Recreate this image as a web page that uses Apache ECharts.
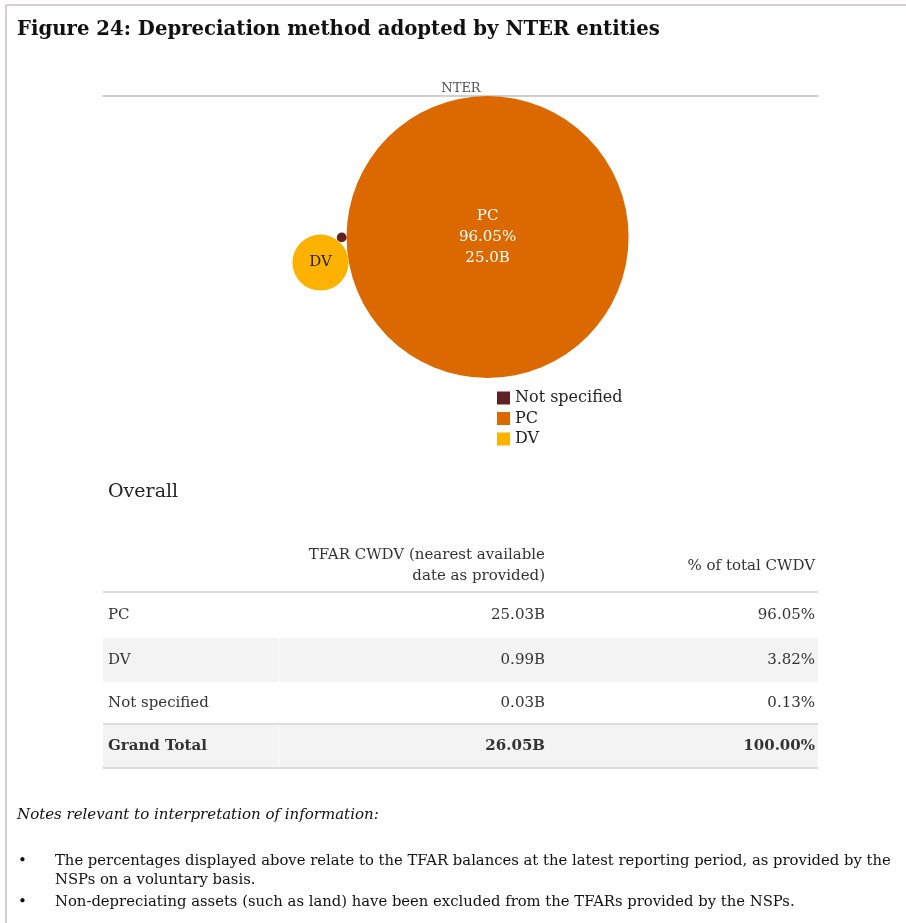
<!DOCTYPE html>
<html>
<head>
<meta charset="utf-8">
<script src="https://cdn.jsdelivr.net/npm/echarts@6/dist/echarts.min.js"></script>
<style>
  html, body { margin: 0; padding: 0; background: #fff; }
  #chart { width: 906px; height: 923px; }
</style>
</head>
<body>
<div id="chart"></div>
<script>
// Depreciation method data (CWDV in billions, share of total in %)
const categories = ['PC', 'DV', 'Not specified'];
const cwdvB = [25.03, 0.99, 0.03];
const sharePct = [96.05, 3.82, 0.13];
const grandTotalB = 26.05;
const grandTotalPct = 100.00;
const colors = ['#DB6900', '#FDB200', '#5F2222'];
const legendOrder = ['Not specified', 'PC', 'DV'];

const titleText = 'Figure 24: Depreciation method adopted by NTER entities';
const chartTitle = 'NTER';
const tableHeading = 'Overall';
const columnHeaders = ['TFAR CWDV (nearest available\ndate as provided)', '% of total CWDV'];
const notesHeading = 'Notes relevant to interpretation of information:';
const notes = [
  'The percentages displayed above relate to the TFAR balances at the latest reporting period, as provided by the\nNSPs on a voluntary basis.',
  'Non-depreciating assets (such as land) have been excluded from the TFARs provided by the NSPs.'
];

const FONT = '"DejaVu Serif", serif';

// Plot area of the bubble chart
const grid = { left: 103, top: 96, width: 715, height: 282 };

// Circle packing: the largest bubble fills the plot height, the second sits
// tangent to it on the left, the third nests in the gap between both.
function packBubbles(values) {
  const rMax = grid.height / 2;
  const r = values.map(v => rMax * Math.sqrt(v / values[0]));
  const theta = 8.7 * Math.PI / 180;
  const c = [[0, 0]];
  const d01 = r[0] + r[1];
  c.push([-d01 * Math.cos(theta), d01 * Math.sin(theta)]);
  // third circle tangent to both
  const a = r[0] + r[2], b = r[1] + r[2];
  const dx = c[1][0] - c[0][0], dy = c[1][1] - c[0][1];
  const d = Math.hypot(dx, dy);
  const l = (a * a - b * b + d * d) / (2 * d);
  const h = Math.sqrt(Math.max(0, a * a - l * l));
  const bx = c[0][0] + l * dx / d, by = c[0][1] + l * dy / d;
  const p1 = [bx - h * dy / d, by + h * dx / d];
  const p2 = [bx + h * dy / d, by - h * dx / d];
  c.push(p1[1] < p2[1] ? p1 : p2);
  let minX = Infinity, maxX = -Infinity, minY = Infinity, maxY = -Infinity;
  c.forEach((p, i) => {
    minX = Math.min(minX, p[0] - r[i]); maxX = Math.max(maxX, p[0] + r[i]);
    minY = Math.min(minY, p[1] - r[i]); maxY = Math.max(maxY, p[1] + r[i]);
  });
  const ox = grid.width / 2 - (minX + maxX) / 2;
  const oy = grid.height / 2 - (minY + maxY) / 2;
  return c.map((p, i) => ({ x: p[0] + ox, y: p[1] + oy, r: r[i] }));
}

const packed = packBubbles(cwdvB);

const series = categories.map((name, i) => ({
  name,
  type: 'scatter',
  xAxisIndex: 0,
  yAxisIndex: 0,
  itemStyle: { color: colors[i], opacity: 1 },
  symbolSize: packed[i].r * 2,
  data: [[packed[i].x, packed[i].y, cwdvB[i], sharePct[i]]],
  label: {
    show: packed[i].r > 12,
    position: 'inside',
    fontFamily: FONT,
    fontSize: 15,
    lineHeight: 21,
    color: packed[i].r > 60 ? '#ffffff' : '#252423',
    formatter: () => packed[i].r > 60
      ? `${name}\n${sharePct[i].toFixed(2)}%\n${cwdvB[i].toFixed(1)}B`
      : name
  },
  emphasis: { disabled: true }
}));

// Table geometry
const tbl = { left: 103, right: 818, col1: 278, col2Right: 545, col3Right: 815, textLeft: 108 };
const rowTops = [593, 638, 682, 725];
const rowH = [44, 44, 42, 43];
const rowFill = ['#ffffff', '#f3f3f3', '#ffffff', '#f3f3f3'];
const tableRows = categories.map((c, i) => [c, cwdvB[i].toFixed(2) + 'B', sharePct[i].toFixed(2) + '%']);
tableRows.push(['Grand Total', grandTotalB.toFixed(2) + 'B', grandTotalPct.toFixed(2) + '%']);

function txt(text, x, y, font, fill, align, vAlign, lineHeight) {
  const a = align || 'left', v = vAlign || 'middle';
  return {
    type: 'text', x, y, silent: true,
    style: { text, font, fill, align: a, verticalAlign: v,
             textAlign: a, textVerticalAlign: v, lineHeight: lineHeight || 21 }
  };
}

const graphics = [];
// page frame
graphics.push({ type: 'line', silent: true, shape: { x1: 6, y1: 5, x2: 906, y2: 5 }, style: { stroke: '#dccccc', lineWidth: 2 } });
graphics.push({ type: 'line', silent: true, shape: { x1: 6, y1: 5, x2: 6, y2: 923 }, style: { stroke: '#dccccc', lineWidth: 2 } });
// figure title
graphics.push(txt(titleText, 17, 30, `bold 19.7px ${FONT}`, '#111111'));
// table heading
graphics.push(txt(tableHeading, 108, 492, `19px ${FONT}`, '#252423'));
// column headers
graphics.push(txt(columnHeaders[0], tbl.col2Right, 566, `15px ${FONT}`, '#333333', 'right'));
graphics.push(txt(columnHeaders[1], tbl.col3Right, 566, `15px ${FONT}`, '#333333', 'right'));
// rows
tableRows.forEach((row, i) => {
  const y0 = rowTops[i], h = rowH[i];
  graphics.push({ type: 'rect', silent: true, shape: { x: tbl.left, y: y0, width: tbl.col1 - tbl.left, height: h }, style: { fill: rowFill[i] } });
  graphics.push({ type: 'rect', silent: true, shape: { x: tbl.col1 + 1, y: y0, width: tbl.right - tbl.col1 - 1, height: h }, style: { fill: rowFill[i] } });
  const bold = i === tableRows.length - 1 ? 'bold ' : '';
  const cy = y0 + h / 2;
  graphics.push(txt(row[0], tbl.textLeft, cy, `${bold}15px ${FONT}`, '#333333'));
  graphics.push(txt(row[1], tbl.col2Right, cy, `${bold}15px ${FONT}`, '#333333', 'right'));
  graphics.push(txt(row[2], tbl.col3Right, cy, `${bold}15px ${FONT}`, '#333333', 'right'));
});
// table rules
[592, 724, 768].forEach(y => {
  graphics.push({ type: 'line', silent: true, shape: { x1: tbl.left, y1: y, x2: tbl.right, y2: y }, style: { stroke: '#dddddd', lineWidth: 2 } });
});
// notes
graphics.push(txt(notesHeading, 17, 815, `italic 15px ${FONT}`, '#111111'));
const noteTops = [852, 893];
notes.forEach((n, i) => {
  graphics.push(txt('•', 18, noteTops[i], `15px ${FONT}`, '#111111', 'left', 'top', 19));
  graphics.push(txt(n, 55, noteTops[i], `14.8px ${FONT}`, '#111111', 'left', 'top', 19));
});

const chart = echarts.init(document.getElementById('chart'), null, { renderer: 'canvas' });
chart.setOption({
  animation: false,
  backgroundColor: '#ffffff',
  title: {
    text: chartTitle,
    left: 456, top: 77, textAlign: 'center',
    textStyle: { fontFamily: FONT, fontSize: 13, fontWeight: 'normal', color: '#555555' }
  },
  legend: {
    data: legendOrder,
    orient: 'vertical',
    left: 492, top: 385,
    icon: 'rect',
    itemWidth: 13, itemHeight: 13, itemGap: 4.5,
    selectedMode: false,
    textStyle: { fontFamily: FONT, fontSize: 16, color: '#252423' }
  },
  grid: { left: grid.left, top: grid.top, width: grid.width, height: grid.height },
  xAxis: [
    { type: 'value', min: 0, max: grid.width, position: 'bottom',
      axisLine: { show: true, lineStyle: { color: '#cccccc', width: 1.5 } },
      axisTick: { show: false }, axisLabel: { show: false }, splitLine: { show: false } },
    { type: 'value', min: 0, max: grid.width, position: 'top',
      axisLine: { show: true, lineStyle: { color: '#cccccc', width: 1.5 } },
      axisTick: { show: false }, axisLabel: { show: false }, splitLine: { show: false } }
  ],
  yAxis: { type: 'value', min: 0, max: grid.height, inverse: true, show: false },
  series,
  graphic: graphics
});
</script>
</body>
</html>
